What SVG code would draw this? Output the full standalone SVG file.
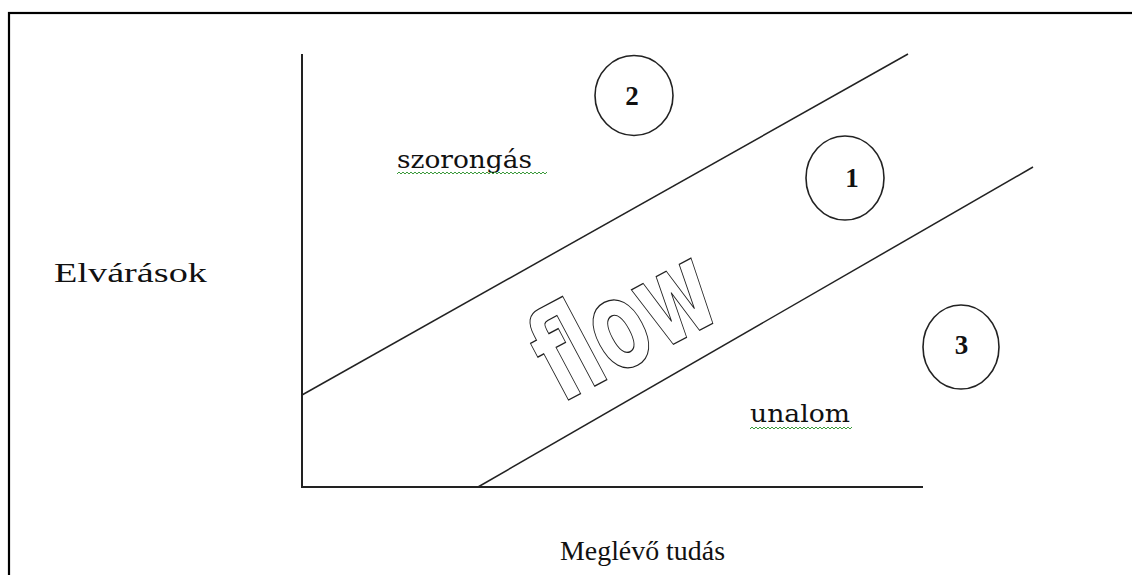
<svg xmlns="http://www.w3.org/2000/svg" width="1132" height="575" viewBox="0 0 1132 575">
<style>
.lbl{font-family:"Liberation Serif","Times New Roman",serif;font-size:28px;fill:#111}
.lbl2{font-family:"DejaVu Serif","Liberation Serif",serif;font-size:25px;fill:#111}
.num{font-family:"Liberation Serif","Times New Roman",serif;font-size:27px;font-weight:bold;fill:#111;text-anchor:middle}
.circ{fill:none;stroke:#222;stroke-width:1.6}
.ln{stroke:#222;stroke-width:1.5;fill:none}
.axis{stroke:#222;stroke-width:2;fill:none}
.sq{stroke:#3a9a3a;stroke-width:1;fill:none}
</style>
<rect x="0" y="0" width="1132" height="575" fill="#fff"/>
<rect x="9" y="13" width="1140" height="600" fill="none" stroke="#000" stroke-width="2.2"/>
<g id="connectors">
<line class="axis" x1="302" y1="54" x2="302" y2="488"/>
<line class="axis" x1="301" y1="487" x2="923" y2="487"/>
<line class="ln" x1="302" y1="395" x2="908" y2="54"/>
<line class="ln" x1="478" y1="487" x2="1033" y2="167"/>
</g>
<g id="flow">
<text transform="translate(561,404) rotate(-28)" x="0" y="0" font-family="'DejaVu Sans','Liberation Sans',Arial,sans-serif" font-weight="bold" font-size="124" textLength="186" lengthAdjust="spacingAndGlyphs" fill="#fff" stroke="#222" stroke-width="1.3">flow</text>
</g>
<g id="node-2">
<ellipse class="circ" cx="634" cy="95.5" rx="39" ry="40"/>
<text class="num" x="632" y="105">2</text>
</g>
<g id="node-1">
<ellipse class="circ" cx="845" cy="178" rx="39" ry="42"/>
<text class="num" x="852" y="187">1</text>
</g>
<g id="node-3">
<ellipse class="circ" cx="961" cy="347" rx="38" ry="42"/>
<text class="num" x="961.5" y="354">3</text>
</g>
<g id="label-szorongas">
<text class="lbl2" x="397" y="168" textLength="135" lengthAdjust="spacingAndGlyphs">szorongás</text>
<path class="sq" d="M397,174 l2,-2 l2,2 l2,-2 l2,2 l2,-2 l2,2 l2,-2 l2,2 l2,-2 l2,2 l2,-2 l2,2 l2,-2 l2,2 l2,-2 l2,2 l2,-2 l2,2 l2,-2 l2,2 l2,-2 l2,2 l2,-2 l2,2 l2,-2 l2,2 l2,-2 l2,2 l2,-2 l2,2 l2,-2 l2,2 l2,-2 l2,2 l2,-2 l2,2 l2,-2 l2,2 l2,-2 l2,2 l2,-2 l2,2 l2,-2 l2,2 l2,-2 l2,2 l2,-2 l2,2 l2,-2 l2,2 l2,-2 l2,2 l2,-2 l2,2 l2,-2 l2,2 l2,-2 l2,2 l2,-2 l2,2 l2,-2 l2,2 l2,-2 l2,2 l2,-2 l2,2 l2,-2 l2,2 l2,-2 l2,2 l2,-2 l2,2 l2,-2 l2,2 l2,-2"/>
</g>
<g id="label-unalom">
<text class="lbl2" x="750" y="422" textLength="100" lengthAdjust="spacingAndGlyphs">unalom</text>
<path class="sq" d="M750,429 l2,-2 l2,2 l2,-2 l2,2 l2,-2 l2,2 l2,-2 l2,2 l2,-2 l2,2 l2,-2 l2,2 l2,-2 l2,2 l2,-2 l2,2 l2,-2 l2,2 l2,-2 l2,2 l2,-2 l2,2 l2,-2 l2,2 l2,-2 l2,2 l2,-2 l2,2 l2,-2 l2,2 l2,-2 l2,2 l2,-2 l2,2 l2,-2 l2,2 l2,-2 l2,2 l2,-2 l2,2 l2,-2 l2,2 l2,-2 l2,2 l2,-2 l2,2 l2,-2 l2,2 l2,-2 l2,2 l2,-2"/>
</g>
<g id="label-elvarasok">
<text class="lbl" x="54" y="282" textLength="153" lengthAdjust="spacingAndGlyphs">Elvárások</text>
</g>
<g id="label-meglevo">
<text class="lbl" x="560" y="560" textLength="165" lengthAdjust="spacingAndGlyphs">Meglévő tudás</text>
</g>
</svg>
